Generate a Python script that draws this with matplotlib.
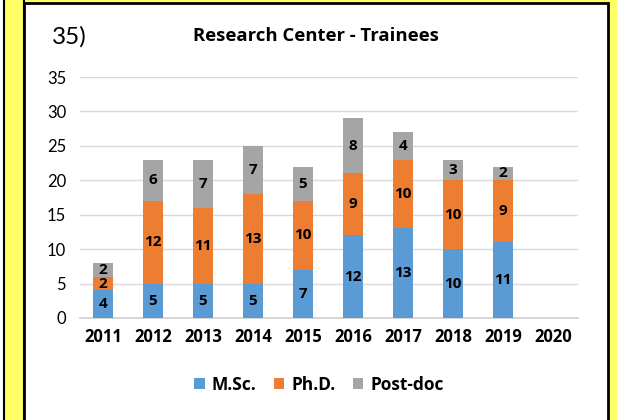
import matplotlib.pyplot as plt
import matplotlib.patches as patches
import numpy as np

plt.rcParams['font.family'] = ['Lato', 'DejaVu Sans']
BOLD = ['Open Sans', 'DejaVu Sans']

years = ['2011', '2012', '2013', '2014', '2015', '2016', '2017', '2018', '2019', '2020']
msc = [4, 5, 5, 5, 7, 12, 13, 10, 11, 0]
phd = [2, 12, 11, 13, 10, 9, 10, 10, 9, 0]
postdoc = [2, 6, 7, 7, 5, 8, 4, 3, 2, 0]

blue = '#5B9BD5'
orange = '#ED7D31'
gray = '#A5A5A5'

W, H = 631, 420
fig = plt.figure(figsize=(W / 100, H / 100), dpi=100)
fig.patch.set_facecolor('white')

# yellow frame and white card behind the axes
fig.patches.append(patches.Rectangle((3 / W, 0), 614 / W, 1, transform=fig.transFigure,
                                     facecolor='#FFFF66', edgecolor='none', zorder=-3))
fig.patches.append(patches.Rectangle((3.5 / W, -0.05), 20 / W, 1.1, transform=fig.transFigure,
                                     facecolor='none', edgecolor='black', lw=1.5, zorder=-2))
fig.patches.append(patches.Rectangle((23.5 / W, -0.05), 584 / W, 1 - 3.5 / H + 0.05,
                                     transform=fig.transFigure, facecolor='white',
                                     edgecolor='black', lw=2, zorder=-1))

ax = fig.add_axes([80 / W, 1 - 318 / H, 498 / W, 241 / H])
ax.set_facecolor('none')
x = np.arange(len(years))
w = 0.4
b1 = ax.bar(x, msc, w, color=blue, label='M.Sc.', zorder=3)
b2 = ax.bar(x, phd, w, bottom=msc, color=orange, label='Ph.D.', zorder=3)
bot = np.array(msc) + np.array(phd)
b3 = ax.bar(x, postdoc, w, bottom=bot, color=gray, label='Post-doc', zorder=3)

for bars, vals in [(b1, msc), (b2, phd), (b3, postdoc)]:
    labels = [str(v) if v else '' for v in vals]
    ax.bar_label(bars, labels=labels, label_type='center', fontsize=11,
                 fontweight='bold', family=BOLD, color='black')

ax.set_xlim(-0.46, 9.5)
ax.set_ylim(0, 35)
ax.set_yticks(range(0, 36, 5))
ax.set_xticks(x)
ax.set_xticklabels(years, fontweight='bold', fontsize=12, family=BOLD)
ax.tick_params(axis='y', labelsize=12, length=0, pad=10)
ax.tick_params(axis='x', length=0, pad=7)
ax.grid(axis='y', color='#D9D9D9', lw=1, zorder=0)
for s in ['top', 'right', 'left']:
    ax.spines[s].set_visible(False)
ax.spines['bottom'].set_color('#D0D0D0')
ax.spines['bottom'].set_linewidth(1.2)

fig.text(52 / W, 1 - 37 / H, '35)', fontsize=17.5, va='center', ha='left')
fig.text(316 / W, 1 - 36 / H, 'Research Center - Trainees', fontsize=13.3,
         fontweight='bold', family=BOLD, va='center', ha='center')

fig.legend(handles=[b1, b2, b3], loc='center', bbox_to_anchor=(319 / W, 1 - 385 / H),
           ncol=3, frameon=False, prop={'weight': 'bold', 'size': 12.5, 'family': BOLD},
           handlelength=0.6, handleheight=0.6, handletextpad=0.4, columnspacing=1.0)

fig.savefig('out.png', dpi=100)
